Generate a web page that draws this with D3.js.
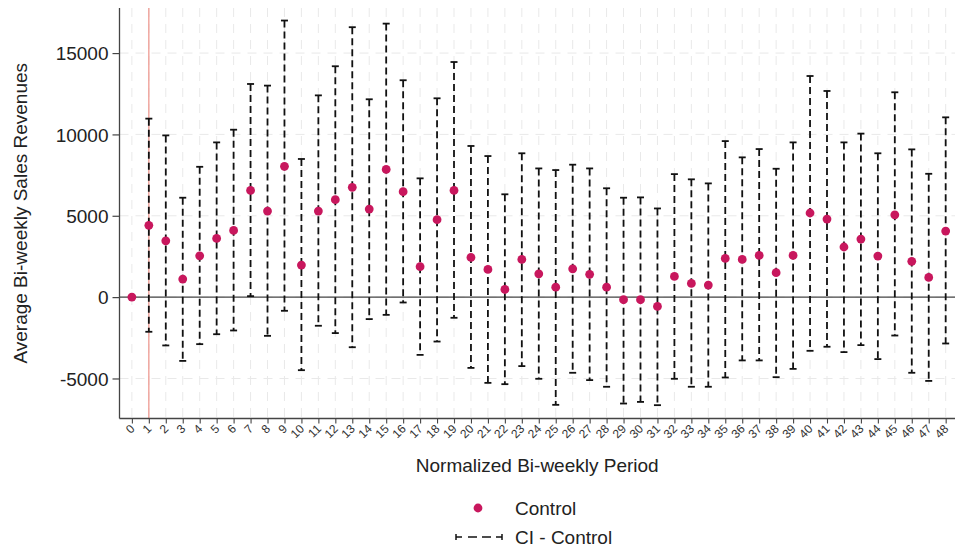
<!DOCTYPE html>
<html><head><meta charset="utf-8">
<script src="https://cdn.jsdelivr.net/npm/d3@7"></script>
<style>body{margin:0;background:#fff;} svg{display:block;} text{font-family:"Liberation Sans",Arial,sans-serif;}</style>
</head><body>
<script>
const periods = d3.range(0, 49);
const estimates = [0, 4410, 3460, 1110, 2540, 3610, 4100, 6560, 5290, 8040,
  1970, 5290, 5990, 6750, 5410, 7850, 6480, 1870, 4760, 6560,
  2440, 1700, 470, 2320, 1430, 610, 1740, 1400, 610, -160,
  -160, -570, 1270, 840, 740, 2380, 2320, 2560, 1500, 2560,
  5170, 4800, 3080, 3570, 2520, 5060, 2200, 1210, 4060];
const ciUpper = [null, 10970, 9940, 6110, 8010, 9510, 10290, 13100, 13000, 17000,
  8490, 12400, 14190, 16590, 12160, 16810, 13330, 7300, 12220, 14450,
  9290, 8670, 6320, 8840, 7910, 7810, 8140, 7910, 6690, 6110,
  6130, 5450, 7560, 7240, 6990, 9590, 8590, 9100, 7890, 9510,
  13590, 12670, 9510, 10050, 8840, 12590, 9080, 7580, 11050];
const ciLower = [null, -2130, -2970, -3920, -2890, -2280, -2050, 60, -2380, -840,
  -4490, -1760, -2210, -3080, -1350, -1090, -330, -3550, -2730, -1270,
  -4350, -5270, -5350, -4240, -5020, -6620, -4650, -5100, -5510, -6540,
  -6440, -6640, -5020, -5510, -5510, -4940, -3890, -3890, -4920, -4410,
  -3300, -3050, -3380, -2950, -3810, -2360, -4650, -5150, -2850];
const yTicks = [-5000, 0, 5000, 10000, 15000];
const refPeriod = 1;
const legendLabels = ["Control", "CI - Control"];

const W = 956, H = 550;
const svg = d3.select("body").append("svg").attr("width", W).attr("height", H);
const pL = 119.5, pR = 955, pT = 8, pB = 418.5;
const x = d3.scaleLinear().domain([-0.73, 48.55]).range([pL, pR]);
const y = d3.scaleLinear().domain([-7460, 17770]).range([pB, pT]);

const data = periods.map((p, i) => ({p, est: estimates[i], lo: ciLower[i], hi: ciUpper[i]}));

// grid
const g = svg.append("g");
g.selectAll(".vg").data(periods).join("line")
  .attr("x1", d => x(d)).attr("x2", d => x(d)).attr("y1", pT).attr("y2", pB)
  .attr("stroke", "#e9e9e9").attr("stroke-width", 1).attr("stroke-dasharray", "9,7");
g.selectAll(".hg").data(yTicks).join("line")
  .attr("x1", pL).attr("x2", pR).attr("y1", d => y(d)).attr("y2", d => y(d))
  .attr("stroke", "#e9e9e9").attr("stroke-width", 1).attr("stroke-dasharray", "9,7");

// zero line
svg.append("line").attr("x1", pL).attr("x2", pR).attr("y1", y(0)).attr("y2", y(0))
  .attr("stroke", "#444").attr("stroke-width", 1.3);
// reference line
svg.append("line").attr("x1", x(refPeriod)).attr("x2", x(refPeriod)).attr("y1", pT).attr("y2", pB)
  .attr("stroke", "#ee9a92").attr("stroke-width", 1.3);

// CI
const ci = data.filter(d => d.hi !== null);
svg.selectAll(".ci").data(ci).join("line")
  .attr("x1", d => x(d.p)).attr("x2", d => x(d.p)).attr("y1", d => y(d.hi)).attr("y2", d => y(d.lo))
  .attr("stroke", "#111").attr("stroke-width", 1.8).attr("stroke-dasharray", "7,4");
svg.selectAll(".capH").data(ci).join("line")
  .attr("x1", d => x(d.p) - 3.5).attr("x2", d => x(d.p) + 3.5).attr("y1", d => y(d.hi)).attr("y2", d => y(d.hi))
  .attr("stroke", "#111").attr("stroke-width", 1.8);
svg.selectAll(".capL").data(ci).join("line")
  .attr("x1", d => x(d.p) - 3.5).attr("x2", d => x(d.p) + 3.5).attr("y1", d => y(d.lo)).attr("y2", d => y(d.lo))
  .attr("stroke", "#111").attr("stroke-width", 1.8);

// points
svg.selectAll(".pt").data(data).join("circle")
  .attr("cx", d => x(d.p)).attr("cy", d => y(d.est)).attr("r", 4.4).attr("fill", "#c8175d");

// axes
const yAxis = svg.append("g").attr("transform", `translate(${pL},0)`)
  .call(d3.axisLeft(y).tickValues(yTicks).tickSize(7).tickPadding(4).tickFormat(d => String(d)));
yAxis.select(".domain").attr("d", `M0,${pT}V${pB}`).attr("stroke", "#444").attr("stroke-width", 1.3);
yAxis.selectAll(".tick line").attr("stroke", "#444").attr("stroke-width", 1.2);
yAxis.selectAll(".tick text").attr("font-size", 19).attr("fill", "#222").attr("dy", "0.35em");

const xAxis = svg.append("g").attr("transform", `translate(0,${pB})`)
  .call(d3.axisBottom(x).tickValues(periods).tickSize(5).tickFormat(d => String(d)));
xAxis.select(".domain").attr("d", `M${pL},0H${pR}`).attr("stroke", "#444").attr("stroke-width", 1.3);
xAxis.selectAll(".tick line").attr("stroke", "#444").attr("stroke-width", 1.1);
xAxis.selectAll(".tick text").attr("font-size", 12).attr("fill", "#333")
  .attr("text-anchor", "end").attr("dy", 0).attr("y", 0)
  .attr("transform", "translate(3,11) rotate(-45)");

// titles
svg.append("text").attr("x", (pL + pR) / 2).attr("y", 472).attr("text-anchor", "middle")
  .attr("font-size", 19).attr("fill", "#222").text("Normalized Bi-weekly Period");
svg.append("text").attr("transform", `translate(27,${(pT + pB) / 2}) rotate(-90)`)
  .attr("text-anchor", "middle").attr("font-size", 19).attr("fill", "#222").text("Average Bi-weekly Sales Revenues");

// legend
const lg = svg.append("g");
lg.append("circle").attr("cx", 478).attr("cy", 508).attr("r", 4.4).attr("fill", "#c8175d");
lg.append("text").attr("x", 515).attr("y", 515).attr("font-size", 19).attr("fill", "#222").text(legendLabels[0]);
const segs = [[456, 462], [468, 477], [482, 491], [496, 502]];
lg.selectAll(".ls").data(segs).join("line")
  .attr("x1", d => d[0]).attr("x2", d => d[1]).attr("y1", 537).attr("y2", 537)
  .attr("stroke", "#111").attr("stroke-width", 1.5);
lg.append("line").attr("x1", 456).attr("x2", 456).attr("y1", 534).attr("y2", 540).attr("stroke", "#111").attr("stroke-width", 1.5);
lg.append("line").attr("x1", 502).attr("x2", 502).attr("y1", 534).attr("y2", 540).attr("stroke", "#111").attr("stroke-width", 1.5);
lg.append("text").attr("x", 515).attr("y", 544).attr("font-size", 19).attr("fill", "#222").text(legendLabels[1]);
</script>
</body></html>
